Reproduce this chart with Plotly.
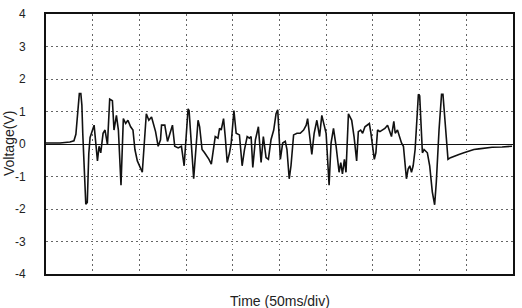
import plotly.graph_objects as go

# time (ms) and voltage (V)
time_ms = [0, 14.9, 25.6, 29.9, 32.0, 34.1, 35.7, 37.3, 38.4, 39.4, 41.0, 42.6, 44.2, 45.8, 47.2,
           51.5, 55.1, 56.8, 58.6, 61.1, 63.2, 65.8, 68.2, 71.1, 72.8, 75.4, 77.5, 80.3, 82.8,
           85.3, 87.7, 90.6, 93.1, 95.2, 97.8, 100.2, 103.1, 107.4, 110.1, 113.0, 115.5, 117.3,
           120.1, 122.6, 123.7, 127.2, 130.1, 135.4, 137.8, 141.5, 145.0, 147.9, 152.1, 153.2,
           158.1, 162.8, 164.5, 167.1, 169.8, 172.4, 174.5, 177.0, 178.8, 181.2, 184.1, 185.8,
           187.6, 190.1, 191.9, 194.0, 196.5, 198.3, 201.2, 203.6, 207.1, 210.0, 212.5, 215.4,
           217.8, 219.6, 221.4, 224.2, 227.4, 230.3, 232.7, 235.6, 238.1, 240.9, 243.8, 246.3,
           248.1, 250.9, 253.4, 256.2, 258.0, 260.4, 262.3, 265.1, 268.7, 272.2, 275.8, 278.6,
           280.1, 284.6, 287.1, 290.0, 292.9, 295.3, 297.8, 299.9, 303.1, 305.2, 307.8, 310.6,
           313.8, 315.6, 317.4, 319.5, 321.2, 323.8, 327.3, 329.8, 332.6, 334.4, 336.9, 339.0,
           341.5, 344.0, 346.2, 347.9, 349.7, 351.5, 353.2, 355.0, 357.5, 360.3, 362.8, 365.7,
           368.1, 369.9, 372.4, 373.9, 376.3, 378.1, 380.6, 382.7, 384.5, 385.9, 387.7, 389.5,
           391.3, 393.1, 395.2, 397.7, 398.7, 400.1, 401.6, 403.0, 404.8, 406.5, 408.3, 410.8,
           413.6, 416.1, 417.9, 420.8, 423.5, 425.0, 427.8, 430.4, 433.1, 436.8, 442.1, 447.4,
           452.7, 458.1, 463.4, 470.5, 477.6, 488.3, 499.0]
voltage = [0.03, 0.03, 0.06, 0.1, 0.3, 1.2, 1.55, 1.55, 1.2, 0.3, -1.0, -1.85, -1.8, -0.3, 0.2,
           0.58, -0.52, -0.07, -0.27, 0.33, 0.43, -0.02, 1.38, 1.33, 0.43, 0.88, 0.43, -1.27, 0.78,
           0.63, 0.73, 0.53, 0.43, -0.17, -0.52, -0.67, -0.87, 0.93, 0.73, 0.83, 0.53, 0.38,
           -0.07, 0.13, 0.58, 0.58, 0.08, 0.58, -0.07, -0.12, -0.07, -0.67, 1.08, 1.03,
           -1.07, 0.73, 0.53, -0.17, -0.27, -0.37, -0.47, -0.62, -0.17, 0.23, 0.18, 0.48,
           0.43, 0.78, 0.23, -0.57, -0.27, 0.03, 1.03, 0.33, 0.28, -0.67, -0.17, 0.23,
           0.18, 0.23, -0.72, 0.13, 0.53, -0.57, 0.23, -0.42, -0.47, 0.13, 0.43, 0.93,
           1.05, -0.47, 0.03, 0.08, -0.17, -1.07, -0.67, 0.28, 0.33, 0.33, 0.43, 0.58,
           0.78, -0.32, 0.33, 0.73, 0.23, 0.88, 0.58, 0.33, -1.27, 0.03, 0.48, -0.07,
           -0.87, -0.57, -0.92, -0.47, -0.87, 0.93, 0.73, 0.23, -0.52, 0.38, 0.43, 0.33,
           0.53, 0.58, 0.63, 0.33, -0.02, -0.47, -0.27, 0.43, 0.38, 0.43, 0.48, 0.58,
           0.38, 0.23, 0.7, 0.33, 0.43, 0.23, 0.03, -0.07, -0.67, -1.07, -0.77, -0.67,
           -0.87, -0.67, -0.17, 1.23, 1.53, 1.48, 0.33, -0.27, -0.17, -0.22, -0.27, -0.67,
           -1.47, -1.87, -1.17, 0.43, 1.53, 1.53, 0.43, -0.47, -0.42, -0.37, -0.32, -0.27,
           -0.22, -0.17, -0.15, -0.12, -0.1, -0.09, -0.07]

y_ticks = [-4, -3, -2, -1, 0, 1, 2, 3, 4]
y_ticklabels = ["-4", "-3", "-2", "-1", "0", "1", "2", "3", "4"]

fig = go.Figure()
fig.add_trace(go.Scatter(x=time_ms, y=voltage, mode="lines",
                         line=dict(color="#111111", width=1.6), showlegend=False,
                         hoverinfo="skip"))

grid_color = "#666666"
fig.update_layout(
    width=522, height=308,
    margin=dict(l=46, r=7, t=8, b=34),
    paper_bgcolor="white", plot_bgcolor="white",
    font=dict(family="Liberation Sans, Arial, sans-serif", color="#222222", size=12),
    xaxis=dict(range=[0, 500], dtick=50, tick0=0, showticklabels=False,
               showgrid=True, gridcolor=grid_color, gridwidth=1, griddash="1.5px,3.5px",
               zeroline=False, showline=True, linecolor="#111111", linewidth=2,
               mirror=True, ticks=""),
    yaxis=dict(range=[-4, 4], tickvals=y_ticks, ticktext=y_ticklabels,
               showgrid=True, gridcolor=grid_color, gridwidth=1, griddash="1.5px,3.5px",
               zeroline=True, zerolinecolor="#111111", zerolinewidth=1.3,
               showline=True, linecolor="#111111", linewidth=2, mirror=True,
               ticks="", ticklabelstandoff=16, tickfont=dict(size=12)),
    annotations=[
        dict(text="Time (50ms/div)", xref="paper", yref="paper", x=0.5, y=0,
             yshift=-17, xanchor="center", yanchor="top", showarrow=False,
             font=dict(size=14, color="#222222")),
        dict(text="Voltage(V)", xref="paper", yref="paper", x=0, y=0.5,
             xshift=-37, xanchor="center", yanchor="middle", textangle=-90,
             showarrow=False, font=dict(size=14, color="#222222")),
    ],
)

fig.write_html("out.html")
